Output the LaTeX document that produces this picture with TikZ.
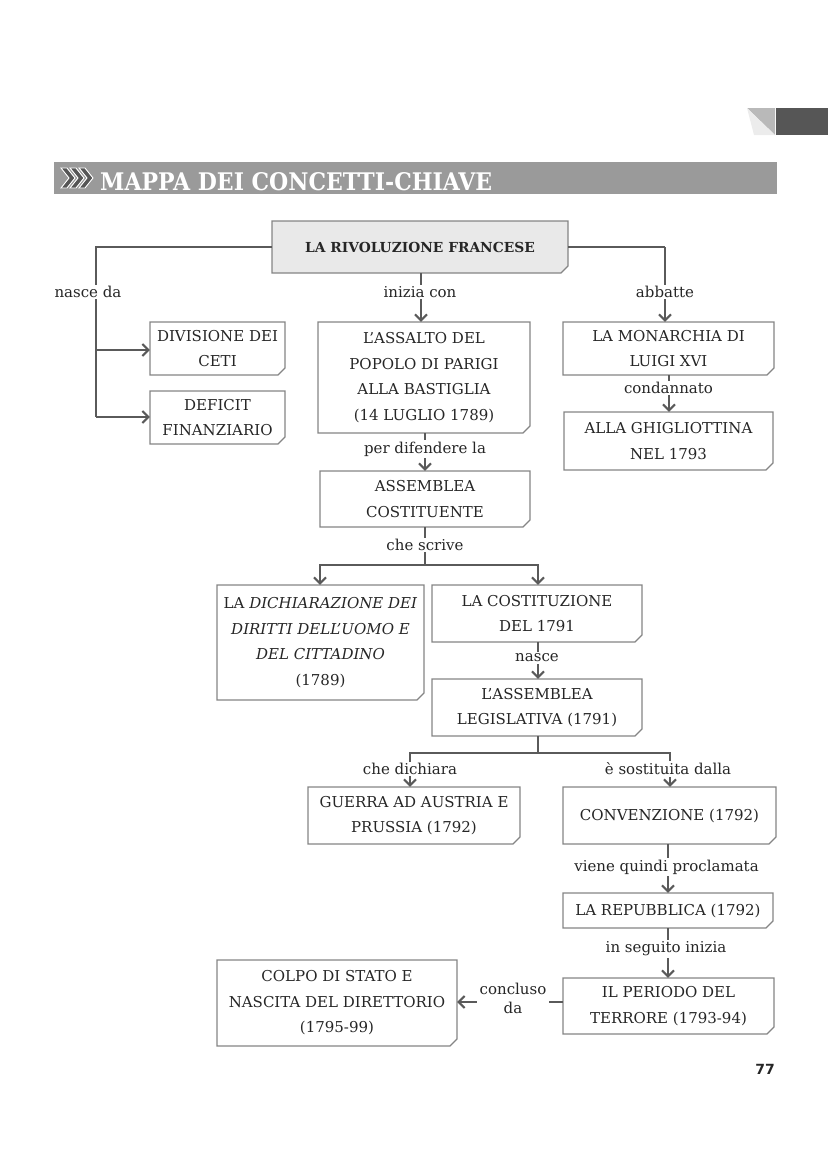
\documentclass[tikz,border=0pt]{standalone}
\usepackage{fontspec}
\usepackage{graphicx}
\setmainfont{DejaVu Serif}
\newfontfamily\pnfont{DejaVu Sans}
\usetikzlibrary{arrows.meta}
\definecolor{conncol}{HTML}{5A5A5A}
\definecolor{boxcol}{HTML}{858585}
\definecolor{barcol}{HTML}{9A9A9A}
\definecolor{rootfill}{HTML}{E9E9E9}
\definecolor{tabdark}{HTML}{565656}
\tikzset{
  boxline/.style={draw=boxcol, line width=1.2pt, fill=white},
  boxtext/.style={inner sep=0pt, align=center, font=\fontsize{15}{25.5}\selectfont, text=black!85},
  conn/.style={draw=conncol, line width=2pt},
  arr/.style={conn, -{Straight Barb[length=6pt,width=12pt]}},
  lbl/.style={fill=white, inner sep=1.5pt, font=\fontsize{15}{19}\selectfont, text=black!85, align=center},
}
\newcommand{\cbox}[7][]{%
  \path[boxline,#1] (#3,#4) -- (#5,#4) -- (#5,{#6-7}) -- ({#5-7},#6) -- (#3,#6) -- cycle;
  \node[boxtext] (#2) at ({(#3+#5)/2},{(#4+#6)/2}) [minimum width={(#5-#3)*1pt}, minimum height={(#6-#4)*1pt}] {#7};
}
\begin{document}
\begin{tikzpicture}[x=1pt,y=-1pt]
\useasboundingbox (0,0) rectangle (828,1171);
% top right tab
\fill[gray!55] (747,108) -- (775,108) -- (775,135) -- cycle;
\fill[gray!15] (747,108) -- (775,135) -- (754,135) -- cycle;
\fill[tabdark] (776,108) rectangle (828,135);
% title bar
\fill[barcol] (54,162) rectangle (777,194);
\foreach \cx in {61,70,79}{
  \filldraw[fill=tabdark, draw=white, line width=0.9pt]
    (\cx,168) -- (\cx+6,168) -- (\cx+14,178) -- (\cx+6,188) -- (\cx,188) -- (\cx+8,178) -- cycle;
}
\node[anchor=base west, inner sep=0pt, text=white] (title) at (100,190)
  {\resizebox{392pt}{18pt}{\bfseries MAPPA DEI CONCETTI-CHIAVE}};
% boxes
\cbox[fill=rootfill]{root}{272}{221}{568}{273}{\fontsize{13.8}{16}\selectfont\bfseries LA RIVOLUZIONE FRANCESE}
\cbox{ceti}{150}{322}{285}{375}{DIVISIONE DEI\\CETI}
\cbox{deficit}{150}{391}{285}{444}{DEFICIT\\FINANZIARIO}
\cbox{assalto}{318}{322}{530}{433}{L’ASSALTO DEL\\POPOLO DI PARIGI\\ALLA BASTIGLIA\\(14 LUGLIO 1789)}
\cbox{monarchia}{563}{322}{774}{375}{LA MONARCHIA DI\\LUIGI XVI}
\cbox{ghigliottina}{564}{412}{773}{470}{ALLA GHIGLIOTTINA\\NEL 1793}
\cbox{costituente}{320}{471}{530}{527}{ASSEMBLEA\\COSTITUENTE}
\cbox{dichiarazione}{217}{585}{424}{700}{LA \textit{DICHIARAZIONE DEI}\\\textit{DIRITTI DELL’UOMO E}\\\textit{DEL CITTADINO}\\(1789)}
\cbox{costituzione}{432}{585}{642}{642}{LA COSTITUZIONE\\DEL 1791}
\cbox{legislativa}{432}{679}{642}{736}{L’ASSEMBLEA\\LEGISLATIVA (1791)}
\cbox{guerra}{308}{787}{520}{844}{GUERRA AD AUSTRIA E\\PRUSSIA (1792)}
\cbox{convenzione}{563}{787}{776}{844}{CONVENZIONE (1792)}
\cbox{repubblica}{563}{893}{773}{928}{LA REPUBBLICA (1792)}
\cbox{terrore}{563}{978}{774}{1034}{IL PERIODO DEL\\TERRORE (1793-94)}
\cbox{colpo}{217}{960}{457}{1046}{COLPO DI STATO E\\NASCITA DEL DIRETTORIO\\(1795-99)}
% helper coordinates
\coordinate (lefttop) at (96,247);
\coordinate (leftmid) at (96,350);
\coordinate (leftbot) at (96,417);
\coordinate (righttop) at (665,247);
\coordinate (split1) at (425,565);
\coordinate (split2) at (538,753);
% connectors
\draw[conn] (lefttop -| root.west) -- (lefttop) -- (leftbot);
\draw[arr] (leftmid) -- (ceti.west |- leftmid);
\draw[arr] (leftbot) -- (deficit.west |- leftbot);
\draw[arr] (root.south -| 421,0) -- (assalto.north -| 421,0);
\draw[conn] (righttop -| root.east) -- (righttop);
\draw[arr] (righttop) -- (monarchia.north -| righttop);
\draw[arr] (monarchia.south -| 669,0) -- (ghigliottina.north -| 669,0);
\draw[arr] (assalto.south -| 425,0) -- (costituente.north -| 425,0);
\draw[conn] (costituente.south -| split1) -- (split1);
\draw[arr] (split1) -| (dichiarazione.north -| 320,0);
\draw[arr] (split1) -| (costituzione.north -| 538,0);
\draw[arr] (costituzione.south -| 538,0) -- (legislativa.north -| 538,0);
\draw[conn] (legislativa.south -| split2) -- (split2);
\draw[arr] (split2) -| (guerra.north -| 410,0);
\draw[arr] (split2) -| (convenzione.north -| 670,0);
\draw[arr] (convenzione.south -| 668,0) -- (repubblica.north -| 668,0);
\draw[arr] (repubblica.south -| 668,0) -- (terrore.north -| 668,0);
\draw[arr] (terrore.west |- 0,1002) -- (colpo.east |- 0,1002);
% labels
\node[lbl] (l1) at (88,292) {nasce da};
\node[lbl] (l2) at (420,292) {inizia con};
\node[lbl] (l3) at (665,292) {abbatte};
\node[lbl] (l4) at (668.5,388) {condannato};
\node[lbl] (l5) at (425,449) {per difendere la};
\node[lbl] (l6) at (425,545) {che scrive};
\node[lbl] (l7) at (537,658) {nasce};
\node[lbl] (l8) at (410,769) {che dichiara};
\node[lbl] (l9) at (668,769) {è sostituita dalla};
\node[lbl] (l10) at (666.5,867) {viene quindi proclamata};
\node[lbl] (l11) at (666,949) {in seguito inizia};
\node[lbl, inner sep=3pt] (l12) at (513,998) {concluso\\da};
% page number
\node[inner sep=0pt, font=\pnfont\bfseries\fontsize{14}{16}\selectfont, text=black!85] (pn) at (765,1069) {77};
\end{tikzpicture}
\end{document}
